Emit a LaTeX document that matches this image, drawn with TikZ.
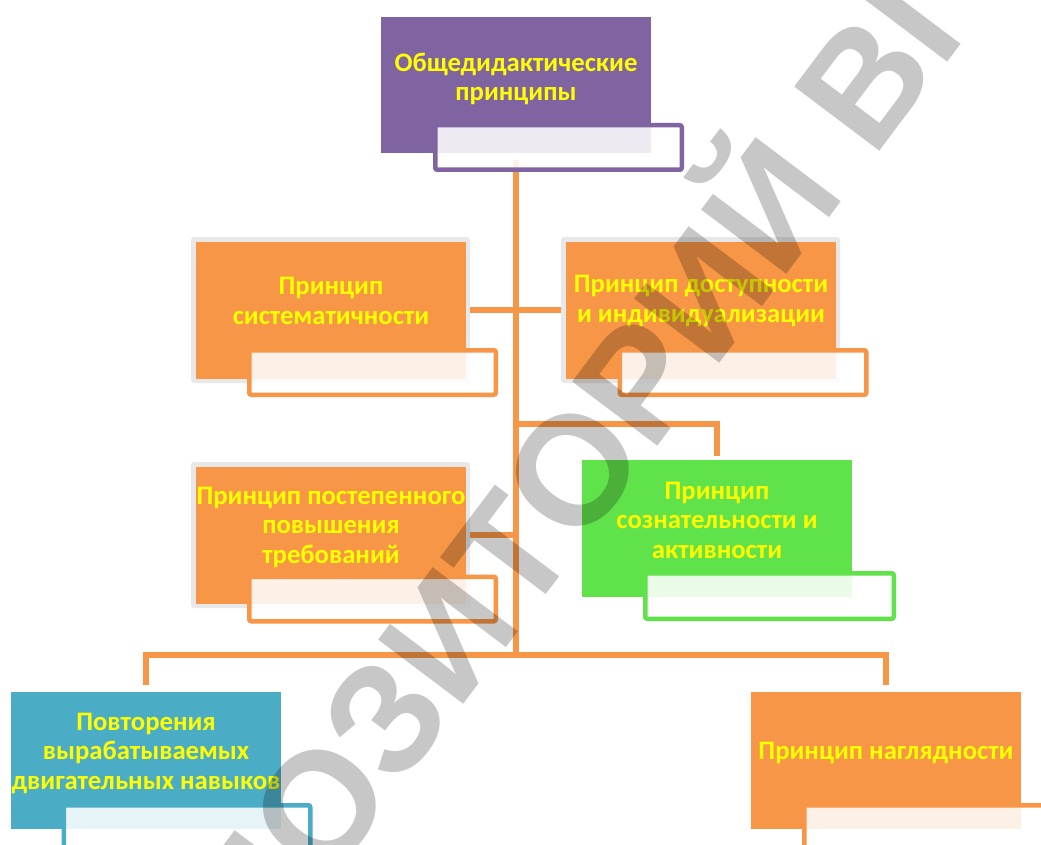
\documentclass[tikz,border=0pt]{standalone}
\usepackage{fontspec}
\setmainfont{Carlito}
\newfontfamily\wmfont{Liberation Sans}
\usetikzlibrary{calc}
\definecolor{cpurple}{HTML}{8064A2}
\definecolor{corange}{HTML}{F79646}
\definecolor{cgreen}{HTML}{60E24A}
\definecolor{cteal}{HTML}{4BACC6}
\definecolor{cglow}{HTML}{E8E8E8}
\definecolor{cyel}{HTML}{FFFF00}
\begin{document}
\begin{tikzpicture}[x=1pt,y=-1pt,
  mainbox/.style={rectangle, draw=none, minimum width=270pt, minimum height=137pt, inner sep=0pt},
  glowbox/.style={rectangle, rounded corners=3pt, fill=cglow, minimum width=279pt, minimum height=146pt, inner sep=0pt},
  outbox/.style={rectangle, rounded corners=2pt, line width=4.5pt, fill=white, fill opacity=0.87, minimum width=246.5pt, minimum height=44.5pt, inner sep=0pt},
  lbl/.style={text=cyel, font=\fontsize{26.7}{29.5}\selectfont\bfseries, align=center, inner sep=0pt},
  conn/.style={draw=corange, line width=5.5pt},
]
\useasboundingbox (0,0) rectangle (1041,845);
\clip (0,0) rectangle (1041,845);
\fill[white] (0,0) rectangle (1041,845);

% glows
\node[glowbox] (g1) at (330.5,310) {};
\node[glowbox] (g2) at (700.5,310) {};
\node[glowbox] (g4) at (330.5,535) {};

% main boxes
\node[mainbox, fill=cpurple, minimum height=136pt] (p) at (516,85) {};
\node[mainbox, fill=corange] (b1) at (331,310.5) {};
\node[mainbox, fill=corange] (b2) at (701,310.5) {};
\node[mainbox, fill=corange] (b4) at (331,535.5) {};
\node[mainbox, fill=cgreen] (gr) at (717,528.5) {};
\node[mainbox, fill=cteal] (t) at (146,760.5) {};
\node[mainbox, fill=corange] (o) at (886,760.5) {};

% connector points
\coordinate (hub) at (516,655);
\coordinate (j1) at (516,424);

% connectors
\draw[conn] ($(p.south)+(0,7)$) -- (hub);
\draw[conn] (g1.east) -- (g2.west);
\draw[conn] (g4.east) -- (g4.east -| hub);
\draw[conn] (j1) -| ($(gr.north)+(0,-4)$);
\draw[conn] ($(t.north)+(0,-7)$) |- (hub) -| ($(o.north)+(0,-7)$);

% outline boxes
\node[outbox, draw=cpurple] (po) at (558.5,147.5) {};
\node[outbox, draw=corange] (o1) at (372.5,372.5) {};
\node[outbox, draw=corange] (o2) at (743,372.5) {};
\node[outbox, draw=corange] (o4) at (372.5,599) {};
\node[outbox, draw=cgreen, minimum width=248.5pt, minimum height=45.5pt] (ogr) at (769.5,596) {};
\node[outbox, draw=cteal] (ot) at (187,827.5) {};
\node[outbox, draw=corange] (oo) at (927.5,827.5) {};

% labels
\node[lbl] (lp) at (516,79) {Общедидактические\\принципы};
\node[lbl] (l1) at (331,301) {Принцип\\систематичности};
\node[lbl] (l2) at (701,301) {Принцип доступности\\и индивидуализации};
\node[lbl] (l4) at (331,527) {Принцип постепенного\\повышения\\требований};
\node[lbl] (lg) at (717,520) {Принцип\\сознательности и\\активности};
\node[lbl] (lt) at (146,753) {Повторения\\вырабатываемых\\двигательных навыков};
\node[lbl] (lo) at (886,753) {Принцип наглядности};

% watermark
\node[rotate=53, text=black, text opacity=0.22, inner sep=0pt,
      font=\wmfont\bfseries\fontsize{155}{155}\selectfont] (wm) at (538,490) {РЕПОЗИТОРИЙ ВГУ};
\end{tikzpicture}
\end{document}
